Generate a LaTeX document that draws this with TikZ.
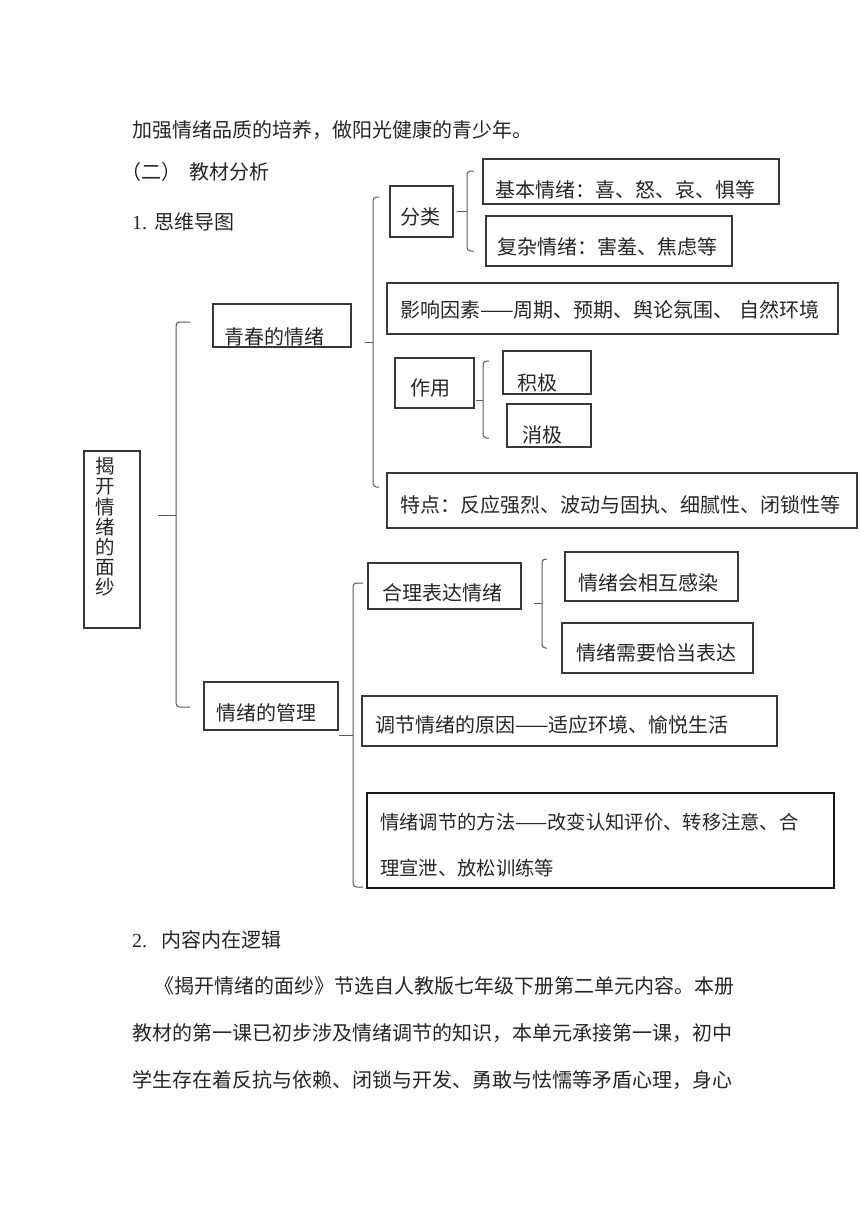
\documentclass[tikz,border=0pt]{standalone}
\usepackage{fontspec}
\setmainfont{Liberation Serif}
\newfontfamily\cjk{Noto Sans CJK SC}
\usetikzlibrary{fit}
\tikzset{
  box/.style={draw=black!78, line width=1.1pt, inner sep=0pt, outer sep=0pt},
  thickbox/.style={draw=black!90, line width=1.8pt, inner sep=0pt, outer sep=0pt},
  txt/.style={inner sep=0pt, anchor=west, font=\cjk\fontsize{20}{24}\selectfont, text=black!85},
  brace/.style={draw=black!65, line width=1pt, rounded corners=3.5pt},
}
\begin{document}
\begin{tikzpicture}[x=1pt,y=-1pt]
\useasboundingbox[fill=white] (0,0) rectangle (860,1216);
% header text
\node[txt] (h1) at (132,130) {加强情绪品质的培养，做阳光健康的青少年。};
\node[txt] (h2) at (121,172) {（二）\hspace{8pt}教材分析};
\node[txt] (h3) at (132,222) {{\rmfamily 1.}\hspace{7pt}思维导图};
% root
\node[box, fit={(84,451) (140,628)}] (root) {};
\node[inner sep=0pt, align=center, font=\cjk\fontsize{19.5}{20.2}\selectfont, text=black!85] (root-t) at (105,527) {揭\\开\\情\\绪\\的\\面\\纱};
% level 1
\node[box, fit={(213,304) (351,347)}] (qc) {};
\node[txt] (qc-t) at (224,337) {青春的情绪};
\node[box, fit={(204,682) (338,730)}] (gl) {};
\node[txt] (gl-t) at (216,713) {情绪的管理};
% main brace
\coordinate (m0) at (158,515);
\coordinate (m1) at (176,515);
\coordinate (mt) at (190,322);
\coordinate (mb) at (190,707);
\draw[brace] (mt) -- (176,322) -- (176,707) -- (mb);
\draw[brace] (m0) -- (m1);
% level 2 (qingchun)
\node[box, fit={(390,186) (453,237)}] (fl) {};
\node[txt] (fl-t) at (400,217) {分类};
\node[box, fit={(483,159) (779,204)}] (jb) {};
\node[txt] (jb-t) at (495,190) {基本情绪：喜、怒、哀、惧等};
\node[box, fit={(486,216) (732,266)}] (fz) {};
\node[txt] (fz-t) at (497,247) {复杂情绪：害羞、焦虑等};
\node[box, fit={(387,283) (838,334)}] (yx) {};
\node[txt] (yx-t) at (400,310) {影响因素——周期、预期、舆论氛围、\hspace{6pt}自然环境};
\node[box, fit={(395,358) (474,408)}] (zy) {};
\node[txt] (zy-t) at (410,388) {作用};
\node[box, fit={(503,351) (591,394)}] (jj) {};
\node[txt] (jj-t) at (517,383) {积极};
\node[box, fit={(507,404) (591,447)}] (xj) {};
\node[txt] (xj-t) at (522,435) {消极};
\node[box, fit={(387,473) (857,528)}] (td) {};
\node[txt] (td-t) at (400,505) {特点：反应强烈、波动与固执、细腻性、闭锁性等};
% brace qingchun
\coordinate (q0) at (365,342);
\coordinate (q1) at (373,342);
\coordinate (qt) at (379,197);
\coordinate (qb) at (379,487);
\draw[brace] (qt) -- (373,197) -- (373,487) -- (qb);
\draw[brace] (q0) -- (q1);
% brace fenlei
\coordinate (f0) at (457,211);
\coordinate (f1) at (467,211);
\coordinate (ft) at (474,171);
\coordinate (fb) at (474,251);
\draw[brace] (ft) -- (467,171) -- (467,251) -- (fb);
\draw[brace] (f0) -- (f1);
% brace zuoyong
\coordinate (z0) at (476,400);
\coordinate (z1) at (483,400);
\coordinate (zt) at (489,361);
\coordinate (zb) at (489,438);
\draw[brace] (zt) -- (483,361) -- (483,438) -- (zb);
\draw[brace] (z0) -- (z1);
% level 2 (guanli)
\node[box, fit={(368,563) (521,609)}] (hl) {};
\node[txt] (hl-t) at (382,593) {合理表达情绪};
\node[box, fit={(565,552) (738,601)}] (gr) {};
\node[txt] (gr-t) at (578,583) {情绪会相互感染};
\node[box, fit={(562,623) (753,673)}] (qd) {};
\node[txt] (qd-t) at (576,653) {情绪需要恰当表达};
\node[box, fit={(362,696) (777,746)}] (yy) {};
\node[txt] (yy-t) at (375,725) {调节情绪的原因——适应环境、愉悦生活};
\node[thickbox, fit={(367,793) (834,888)}] (ff) {};
\node[txt, font=\cjk\fontsize{19.3}{24}\selectfont] (ff-t1) at (380,822) {情绪调节的方法——改变认知评价、转移注意、合};
\node[txt, font=\cjk\fontsize{19.3}{24}\selectfont] (ff-t2) at (380,868) {理宣泄、放松训练等};
% brace guanli
\coordinate (g0) at (339,735);
\coordinate (g1) at (353,735);
\coordinate (gt) at (363,583);
\coordinate (gb) at (363,887);
\draw[brace] (gt) -- (353,583) -- (353,887) -- (gb);
\draw[brace] (g0) -- (g1);
% brace heli
\coordinate (r0) at (534,603);
\coordinate (r1) at (542,603);
\coordinate (rt) at (547,559);
\coordinate (rb) at (547,648);
\draw[brace] (rt) -- (542,559) -- (542,648) -- (rb);
\draw[brace] (r0) -- (r1);
% footer text
\node[txt] (p0) at (132,940) {{\rmfamily 2.}\hspace{14pt}内容内在逻辑};
\node[txt, anchor=east] (p1) at (735,986) {《揭开情绪的面纱》节选自人教版七年级下册第二单元内容。本册};
\node[txt] (p2) at (132,1033) {教材的第一课已初步涉及情绪调节的知识，本单元承接第一课，初中};
\node[txt] (p3) at (132,1080) {学生存在着反抗与依赖、闭锁与开发、勇敢与怯懦等矛盾心理，身心};
\end{tikzpicture}
\end{document}
